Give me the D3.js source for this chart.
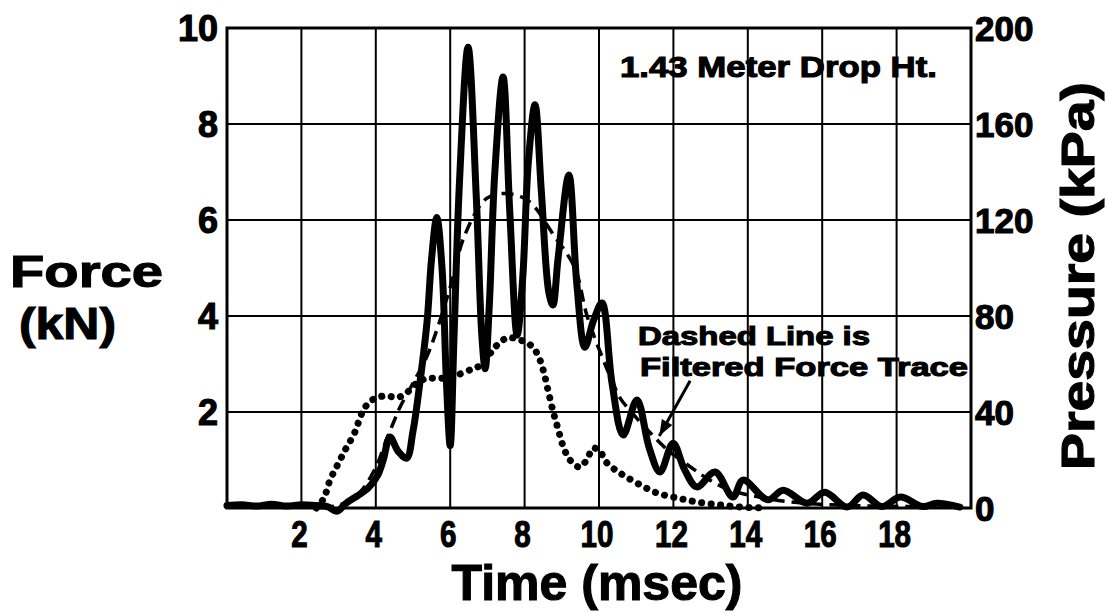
<!DOCTYPE html>
<html>
<head>
<meta charset="utf-8">
<script src="https://cdn.jsdelivr.net/npm/d3@7"></script>
<style>
  body { margin: 0; background: #fff; }
  text { font-family: "Liberation Sans", Arial, sans-serif; font-weight: bold; fill: #000;
         stroke: #000; stroke-width: 1.1px; paint-order: stroke; }
</style>
</head>
<body>
<svg id="chart"></svg>
<script>
var w = 1106, h = 613;

// raw force trace (kN)
var rawTime = [0, 0.4, 0.8, 1.2, 1.6, 2.0, 2.4, 2.7, 2.95, 3.2, 3.5, 3.8, 4.05, 4.2, 4.38, 4.6, 4.83,
  5.0, 5.2, 5.38, 5.5, 5.64, 5.78, 5.9, 6.0, 6.1, 6.25, 6.48, 6.7, 6.85, 6.94, 7.05, 7.2, 7.42,
  7.6, 7.8, 7.95, 8.1, 8.28, 8.45, 8.65, 8.76, 8.9, 9.19, 9.4, 9.62, 9.85, 10.08, 10.35, 10.65,
  11.02, 11.35, 11.64, 11.99, 12.3, 12.63, 13.12, 13.6, 13.87, 14.54, 14.95, 15.6, 16.07, 16.67,
  17.1, 17.6, 18.1, 18.7, 19.08, 19.7];
var rawForce = [0.05, 0.07, 0.04, 0.08, 0.04, 0.07, 0.05, 0.03, -0.07, 0.1, 0.25, 0.42, 0.68, 1.0, 1.48, 1.18, 1.04,
  1.6, 2.7, 3.9, 5.2, 6.05, 5.0, 2.6, 1.3, 3.5, 6.8, 9.6, 6.5, 3.6, 2.9, 4.2, 7.0, 8.98,
  6.2, 3.6, 4.8, 7.2, 8.4, 6.6, 4.5, 4.23, 5.2, 6.94, 4.7, 3.35, 3.9, 4.27, 2.6, 1.52,
  2.25, 1.25, 0.75, 1.35, 0.8, 0.44, 0.75, 0.23, 0.58, 0.17, 0.37, 0.1, 0.33, 0.02,
  0.27, 0.03, 0.23, 0.03, 0.1, 0.02];

// filtered force trace (kN)
var filtTime = [0, 1, 2, 2.8, 3.2, 3.6, 4.0, 4.3, 4.47, 4.65, 5.0, 5.37, 5.68, 6.0, 6.4, 6.98, 7.5,
  8.1, 8.77, 9.35, 9.68, 10.16, 10.38, 10.56, 10.9, 11.56, 11.86, 12.45, 12.9, 13.5, 14.5,
  15.5, 16.5, 17.5, 18.5, 19.7];
var filtForce = [0.03, 0.04, 0.04, 0.03, 0.12, 0.35, 0.85, 1.45, 1.77, 2.1, 2.6, 3.15, 3.8, 4.6, 5.7, 6.45, 6.55,
  6.4, 5.7, 5.0, 4.0, 3.0, 2.6, 2.3, 1.97, 1.42, 1.2, 0.86, 0.62, 0.38, 0.2,
  0.1, 0.06, 0.04, 0.03, 0.02];

// pressure trace (kPa)
var presTime = [2.4, 2.6, 2.77, 2.9, 3.04, 3.17, 3.3, 3.44, 3.63, 3.8, 4.03, 4.3, 4.57, 4.83, 5.1, 5.37,
  5.73, 6.1, 6.6, 6.88, 7.15, 7.42, 7.6, 7.88, 8.15, 8.33, 8.5, 8.63, 8.77, 8.9, 9.03, 9.22,
  9.49, 9.7, 9.84, 10.03, 10.2, 10.56, 11.02, 11.56, 12.1, 12.63, 13.25, 13.8, 14.5];
var pressure = [0, 4, 11.7, 15.8, 20, 24, 27.5, 31.7, 39.6, 43.7, 46, 46.7, 46, 48, 52, 54,
  54, 55, 58, 60, 66, 70, 71, 70, 68, 64.6, 57.5, 49, 40, 33, 26, 20,
  17, 21, 25, 23.5, 19, 14.6, 10.4, 6.25, 4.2, 2.5, 1.25, 0.4, 0];

var timeTicks = [2, 4, 6, 8, 10, 12, 14, 16, 18];
var forceTicks = [2, 4, 6, 8, 10];
var presTicks = [0, 40, 80, 120, 160, 200];

var x = d3.scaleLinear().domain([0, 20]).range([227, 971]);
var y = d3.scaleLinear().domain([0, 10]).range([508, 28]);
var yP = d3.scaleLinear().domain([0, 200]).range([508, 28]);

var svg = d3.select('#chart')
  .attr('width', w)
  .attr('height', h);

// grid
svg.append('g')
  .selectAll('line')
  .data(timeTicks)
  .enter()
  .append('line')
  .attr('x1', function(d){return x(d);})
  .attr('x2', function(d){return x(d);})
  .attr('y1', y(0))
  .attr('y2', y(10))
  .attr('stroke', '#000')
  .attr('stroke-width', 2);

svg.append('g')
  .selectAll('line')
  .data([2, 4, 6, 8])
  .enter()
  .append('line')
  .attr('y1', function(d){return y(d);})
  .attr('y2', function(d){return y(d);})
  .attr('x1', x(0))
  .attr('x2', x(20))
  .attr('stroke', '#000')
  .attr('stroke-width', 2);

svg.append('rect')
  .attr('x', x(0))
  .attr('y', y(10))
  .attr('width', x(20) - x(0))
  .attr('height', y(0) - y(10))
  .attr('fill', 'none')
  .attr('stroke', '#000')
  .attr('stroke-width', 3);

// axes (labels only)
var bottom = svg.append('g')
  .attr('transform', 'translate(0,' + y(0) + ')')
  .call(d3.axisBottom(x).tickValues(timeTicks).tickSize(0).tickPadding(0));
bottom.select('.domain').remove();
bottom.selectAll('.tick').each(function(d){
  d3.select(this).attr('transform', 'translate(' + (x(d) - 2) + ',0)');
  d3.select(this).select('text')
    .attr('x', 0)
    .attr('y', 39)
    .attr('dy', null)
    .attr('transform', 'scale(0.8,1)')
    .style('font-size', '37px');
});

var left = svg.append('g')
  .attr('transform', 'translate(' + 218 + ',0)')
  .call(d3.axisLeft(y).tickValues(forceTicks).tickSize(0).tickPadding(0));
left.select('.domain').remove();
left.selectAll('text')
  .attr('dy', '0.36em')
  .style('font-size', '36px');

var right = svg.append('g')
  .attr('transform', 'translate(' + 975 + ',0)')
  .call(d3.axisRight(yP).tickValues(presTicks).tickSize(0).tickPadding(0));
right.select('.domain').remove();
right.selectAll('text')
  .attr('dy', '0.36em')
  .style('font-size', '35px');
svg.selectAll('.tick line').remove();
svg.selectAll('.tick text').attr('fill', '#000').style('font-family', null);

// traces
var forceLine = d3.line()
  .x(function(d){return x(d[0]);})
  .y(function(d){return y(d[1]);})
  .curve(d3.curveCatmullRom.alpha(0.5));

svg.append('path')
  .datum(d3.zip(rawTime, rawForce))
  .attr('d', forceLine)
  .attr('fill', 'none')
  .attr('stroke', '#000')
  .attr('stroke-width', 7)
  .attr('stroke-linejoin', 'round')
  .attr('stroke-linecap', 'round');

svg.append('path')
  .datum(d3.zip(filtTime, filtForce))
  .attr('d', forceLine)
  .attr('fill', 'none')
  .attr('stroke', '#000')
  .attr('stroke-width', 3.5)
  .attr('stroke-dasharray', '12 7');

var presLine = d3.line()
  .x(function(d){return x(d[0]);})
  .y(function(d){return yP(d[1]);})
  .curve(d3.curveCatmullRom.alpha(0.5));

svg.append('path')
  .datum(d3.zip(presTime, pressure))
  .attr('d', presLine)
  .attr('fill', 'none')
  .attr('stroke', '#000')
  .attr('stroke-width', 7)
  .attr('stroke-linecap', 'round')
  .attr('stroke-dasharray', '0.1 9.4');

// arrow to the filtered trace
var a0 = [x(12.45), y(2.65)], a1 = [x(11.62), y(1.5)];
svg.append('line')
  .attr('x1', a0[0]).attr('y1', a0[1])
  .attr('x2', a1[0]).attr('y2', a1[1])
  .attr('stroke', '#000')
  .attr('stroke-width', 3);
var ang = Math.atan2(a1[1] - a0[1], a1[0] - a0[0]);
svg.append('path')
  .attr('transform', 'translate(' + a1[0] + ',' + a1[1] + ') rotate(' + (ang * 180 / Math.PI) + ')')
  .attr('d', 'M0,0 L-16,-6 L-16,6 Z')
  .attr('fill', '#000');

// text
svg.append('text')
  .attr('x', 620).attr('y', 77)
  .attr('textLength', 317).attr('lengthAdjust', 'spacingAndGlyphs')
  .style('font-size', '30px')
  .text('1.43 Meter Drop Ht.');

svg.append('text')
  .attr('x', 638).attr('y', 345)
  .attr('textLength', 232).attr('lengthAdjust', 'spacingAndGlyphs')
  .style('font-size', '26px')
  .text('Dashed Line is');

svg.append('text')
  .attr('x', 640).attr('y', 376)
  .attr('textLength', 328).attr('lengthAdjust', 'spacingAndGlyphs')
  .style('font-size', '26px')
  .text('Filtered Force Trace');

svg.append('text')
  .attr('x', 10).attr('y', 287)
  .attr('textLength', 153).attr('lengthAdjust', 'spacingAndGlyphs')
  .style('font-size', '44px')
  .text('Force');

svg.append('text')
  .attr('x', 19).attr('y', 339)
  .attr('textLength', 97).attr('lengthAdjust', 'spacingAndGlyphs')
  .style('font-size', '44px')
  .text('(kN)');

svg.append('text')
  .attr('x', 597).attr('y', 600)
  .attr('text-anchor', 'middle')
  .style('font-size', '50px')
  .text('Time (msec)');

svg.append('text')
  .attr('transform', 'translate(1094,470) rotate(-90)')
  .attr('textLength', 388).attr('lengthAdjust', 'spacingAndGlyphs')
  .style('font-size', '46px')
  .text('Pressure (kPa)');
</script>
</body>
</html>
